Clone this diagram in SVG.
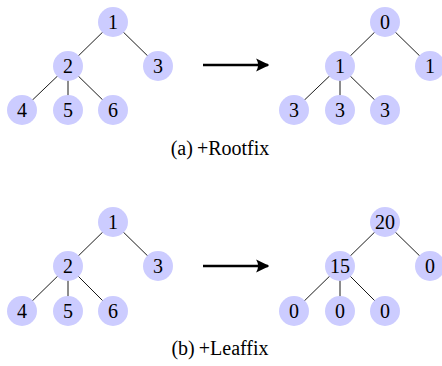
<svg xmlns="http://www.w3.org/2000/svg" width="442" height="366" viewBox="0 0 442 366">
<style>
.n circle{fill:#ccccff;stroke:none}
.n text{font-size:20px;fill:#000;text-anchor:middle}
.e line{stroke:#000;stroke-width:0.9}
.e line.arr{stroke:#000;stroke-width:2.4;fill:none}
.cap{font-size:20px;fill:#000;text-anchor:middle}
</style>
<defs>
<marker id="ah" viewBox="0 0 10 10" refX="9" refY="5" markerWidth="5.5" markerHeight="5.5" markerUnits="strokeWidth" orient="auto">
<path d="M0,0 Q3,5 0,10 L10,5 Z" fill="#000"/>
</marker>
</defs>
<g id="connectors" class="e">
<line x1="113" y1="22" x2="68" y2="66"/>
<line x1="113" y1="22" x2="158" y2="66"/>
<line x1="68" y1="66" x2="22" y2="110"/>
<line x1="68" y1="66" x2="68" y2="110"/>
<line x1="68" y1="66" x2="113" y2="110"/>
<line x1="385" y1="22" x2="340" y2="66"/>
<line x1="385" y1="22" x2="430" y2="66"/>
<line x1="340" y1="66" x2="294" y2="110"/>
<line x1="340" y1="66" x2="340" y2="110"/>
<line x1="340" y1="66" x2="385" y2="110"/>
<line x1="113" y1="222" x2="68" y2="266"/>
<line x1="113" y1="222" x2="158" y2="266"/>
<line x1="68" y1="266" x2="22" y2="311"/>
<line x1="68" y1="266" x2="68" y2="311"/>
<line x1="68" y1="266" x2="113" y2="311"/>
<line x1="385" y1="222" x2="340" y2="266"/>
<line x1="385" y1="222" x2="430" y2="266"/>
<line x1="340" y1="266" x2="294" y2="311"/>
<line x1="340" y1="266" x2="340" y2="311"/>
<line x1="340" y1="266" x2="385" y2="311"/>
<line class="arr" x1="203" y1="65" x2="268" y2="65" marker-end="url(#ah)"/>
<line class="arr" x1="203" y1="266" x2="268" y2="266" marker-end="url(#ah)"/>
</g>
<g font-family="'Liberation Serif', 'DejaVu Serif', serif">
<g id="a1" class="n"><circle cx="113" cy="22" r="15"/><text x="113" y="29">1</text></g>
<g id="a2" class="n"><circle cx="68" cy="66" r="15"/><text x="68" y="73">2</text></g>
<g id="a3" class="n"><circle cx="158" cy="66" r="15"/><text x="158" y="73">3</text></g>
<g id="a4" class="n"><circle cx="22" cy="110" r="15"/><text x="22" y="117">4</text></g>
<g id="a5" class="n"><circle cx="68" cy="110" r="15"/><text x="68" y="117">5</text></g>
<g id="a6" class="n"><circle cx="113" cy="110" r="15"/><text x="113" y="117">6</text></g>
<g id="b1" class="n"><circle cx="385" cy="22" r="15"/><text x="385" y="29">0</text></g>
<g id="b2" class="n"><circle cx="340" cy="66" r="15"/><text x="340" y="73">1</text></g>
<g id="b3" class="n"><circle cx="430" cy="66" r="15"/><text x="430" y="73">1</text></g>
<g id="b4" class="n"><circle cx="294" cy="110" r="15"/><text x="294" y="117">3</text></g>
<g id="b5" class="n"><circle cx="340" cy="110" r="15"/><text x="340" y="117">3</text></g>
<g id="b6" class="n"><circle cx="385" cy="110" r="15"/><text x="385" y="117">3</text></g>
<g id="c1" class="n"><circle cx="113" cy="222" r="15"/><text x="113" y="229">1</text></g>
<g id="c2" class="n"><circle cx="68" cy="266" r="15"/><text x="68" y="273">2</text></g>
<g id="c3" class="n"><circle cx="158" cy="266" r="15"/><text x="158" y="273">3</text></g>
<g id="c4" class="n"><circle cx="22" cy="311" r="15"/><text x="22" y="318">4</text></g>
<g id="c5" class="n"><circle cx="68" cy="311" r="15"/><text x="68" y="318">5</text></g>
<g id="c6" class="n"><circle cx="113" cy="311" r="15"/><text x="113" y="318">6</text></g>
<g id="d1" class="n"><circle cx="385" cy="222" r="15"/><text x="385" y="229">20</text></g>
<g id="d2" class="n"><circle cx="340" cy="266" r="15"/><text x="340" y="273">15</text></g>
<g id="d3" class="n"><circle cx="430" cy="266" r="15"/><text x="430" y="273">0</text></g>
<g id="d4" class="n"><circle cx="294" cy="311" r="15"/><text x="294" y="318">0</text></g>
<g id="d5" class="n"><circle cx="340" cy="311" r="15"/><text x="340" y="318">0</text></g>
<g id="d6" class="n"><circle cx="385" cy="311" r="15"/><text x="385" y="318">0</text></g>
<text class="cap" x="220" y="155">(a)<tspan dx="4">+Rootfix</tspan></text>
<text class="cap" x="220" y="355">(b)<tspan dx="4">+Leaffix</tspan></text>
</g>
</svg>
